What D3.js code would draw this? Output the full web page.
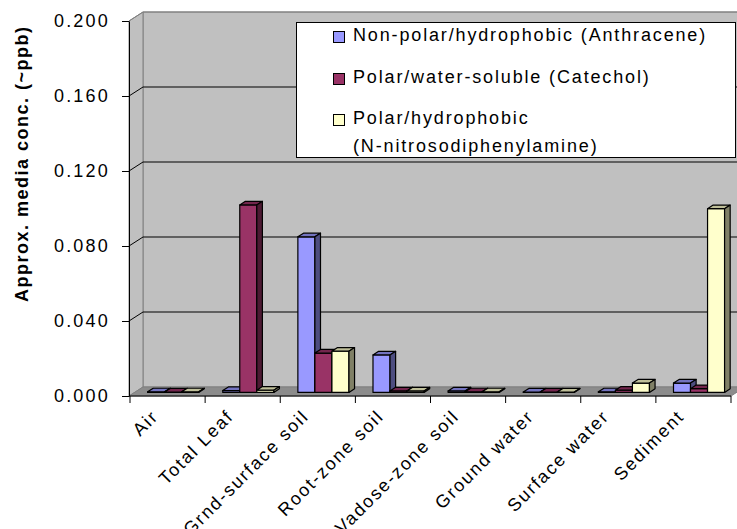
<!DOCTYPE html>
<html>
<head>
<meta charset="utf-8">
<script src="https://cdn.jsdelivr.net/npm/d3@7/dist/d3.min.js"></script>
<style>
  html, body { margin: 0; padding: 0; background: #ffffff; }
  svg { display: block; }
  text { font-family: "Liberation Sans", Arial, sans-serif; fill: #000; }
</style>
</head>
<body>
<svg id="chart" width="737" height="529"></svg>
<script>
// Media compartments along the x axis
const categories = ["Air", "Total Leaf", "Grnd-surface soil", "Root-zone soil",
  "Vadose-zone soil", "Ground water", "Surface water", "Sediment"];

// Series names as shown in the legend
const seriesNames = [
  "Non-polar/hydrophobic (Anthracene)",
  "Polar/water-soluble (Catechol)",
  "Polar/hydrophobic (N-nitrosodiphenylamine)"
];

// Approximate media concentrations per compartment
const anthracene = [0.0003, 0.001, 0.083, 0.020, 0.0008, 0.0002, 0.0003, 0.005];
const catechol   = [0.0002, 0.100, 0.021, 0.0008, 0.0003, 0.0002, 0.0012, 0.002];
const nitroso    = [0.0003, 0.0012, 0.022, 0.0008, 0.0003, 0.0002, 0.005, 0.098];

const yTicks = [0, 0.04, 0.08, 0.12, 0.16, 0.2];
const yTitle = "Approx. media conc. (~ppb)";

const seriesValues = [anthracene, catechol, nitroso];

// Face colours per series: front, top, side
const faceColors = [
  { front: "#9999ff", top: "#7373bf", side: "#4d4d80" },
  { front: "#993366", top: "#73264d", side: "#4d1a33" },
  { front: "#ffffcc", top: "#bfbf99", side: "#808066" }
];

const svg = d3.select("#chart");

// Front plane of the 3D box
const x0Left = 130, x0Right = 731;
const yScale = d3.scaleLinear().domain([0, 0.2]).range([396, 21]);
const x0 = d3.scaleBand().domain(categories).range([x0Left, x0Right]);
const bw = x0.bandwidth();
const x1 = d3.scaleBand().domain(d3.range(3)).range([bw * 0.16, bw * 0.84]);

// Depth of the box
const DX = 14, DY = -9;
const wallRight = 760;

const g = svg.append("g");

// Back wall
g.append("polygon")
  .attr("points", [[x0Left - 1 + DX, yScale(0.2) + DY], [wallRight, yScale(0.2) + DY],
    [wallRight, yScale(0) + DY], [x0Left - 1 + DX, yScale(0) + DY]].join(" "))
  .attr("fill", "#c0c0c0").attr("stroke", "#808080").attr("stroke-width", 1);

// Left side wall
g.append("polygon")
  .attr("points", [[x0Left - 1, yScale(0.2)], [x0Left - 1 + DX, yScale(0.2) + DY],
    [x0Left - 1 + DX, yScale(0) + DY], [x0Left - 1, yScale(0)]].join(" "))
  .attr("fill", "#c0c0c0").attr("stroke", "#808080").attr("stroke-width", 1);

// Floor
g.append("polygon")
  .attr("points", [[x0Left - 1, yScale(0)], [x0Right, yScale(0)],
    [x0Right + DX, yScale(0) + DY], [x0Left - 1 + DX, yScale(0) + DY]].join(" "))
  .attr("fill", "#8c8c8c").attr("stroke", "#808080").attr("stroke-width", 1);

// Gridlines on side wall and back wall
yTicks.filter(v => v > 0).forEach(v => {
  const y = yScale(v);
  g.append("path")
    .attr("d", `M${x0Left - 1},${y}L${x0Left - 1 + DX},${y + DY}L${wallRight},${y + DY}`)
    .attr("fill", "none").attr("stroke", v === 0.2 ? "#808080" : "#000")
    .attr("stroke-width", 1);
});

// Bars: placed at mid-depth of the box
const bFrontX = 5.6, bFrontY = -3.6;   // bar front offset from the front plane
const bdx = 5.6, bdy = -3.6;           // bar depth
const barW = x1.bandwidth();

categories.forEach((cat, ci) => {
  seriesValues.forEach((vals, si) => {
    const v = vals[ci];
    const xl = x0(cat) + x1(si) + bFrontX;
    const xr = xl + barW;
    const yb = yScale(0) + bFrontY;
    const yt = yScale(v) + bFrontY;
    const c = faceColors[si];
    const bar = g.append("g").attr("class", "bar");
    bar.append("polygon")
      .attr("points", [[xl, yt], [xr, yt], [xr, yb], [xl, yb]].join(" "))
      .attr("fill", c.front).attr("stroke", "#000").attr("stroke-width", 1.2)
      .attr("stroke-linejoin", "round");
    bar.append("polygon")
      .attr("points", [[xl, yt], [xr, yt], [xr + bdx, yt + bdy], [xl + bdx, yt + bdy]].join(" "))
      .attr("fill", c.top).attr("stroke", "#000").attr("stroke-width", 1.2)
      .attr("stroke-linejoin", "round");
    bar.append("polygon")
      .attr("points", [[xr, yt], [xr + bdx, yt + bdy], [xr + bdx, yb + bdy], [xr, yb]].join(" "))
      .attr("fill", c.side).attr("stroke", "#000").attr("stroke-width", 1.2)
      .attr("stroke-linejoin", "round");
  });
});

// Y axis
const yAxis = d3.axisLeft(yScale).tickValues(yTicks).tickFormat(d3.format(".3f"))
  .tickSizeInner(7).tickSizeOuter(0).tickPadding(12);
const yAxisG = svg.append("g").attr("transform", `translate(${x0Left - 1},0)`).call(yAxis);
yAxisG.select(".domain").attr("stroke", "#000");
yAxisG.selectAll(".tick line").attr("stroke", "#000");
yAxisG.selectAll(".tick text")
  .style("font-family", "'Liberation Sans', Arial, sans-serif")
  .style("font-size", "18px").style("letter-spacing", "2.2px").attr("fill", "#000");

// X axis with ticks at category boundaries
const xAxisG = svg.append("g").attr("transform", `translate(0,${yScale(0)})`);
xAxisG.append("line").attr("x1", x0Left - 1).attr("x2", x0Right).attr("y1", 0).attr("y2", 0)
  .attr("stroke", "#000");
categories.concat([null]).forEach((cat, i) => {
  const xx = cat === null ? x0Right : x0(cat);
  xAxisG.append("line").attr("x1", xx).attr("x2", xx).attr("y1", 0).attr("y2", 7)
    .attr("stroke", "#000");
});
categories.forEach(cat => {
  const cx = x0(cat) + bw / 2;
  xAxisG.append("text")
    .attr("transform", `translate(${cx - 12.5},${17}) rotate(-45)`)
    .attr("text-anchor", "end")
    .attr("dy", "0.35em")
    .style("font-size", "18px").style("letter-spacing", "1.85px")
    .text(cat);
});

// Y axis title
svg.append("text")
  .attr("transform", "translate(28,302) rotate(-90)")
  .attr("text-anchor", "start")
  .style("font-size", "18px").style("font-weight", "bold").style("letter-spacing", "1.5px")
  .text(yTitle);

// Legend
const legend = svg.append("g");
legend.append("rect").attr("x", 296.5).attr("y", 22.5).attr("width", 439).attr("height", 135)
  .attr("fill", "#fff").attr("stroke", "#000").attr("stroke-width", 1);
const legendRows = [
  { lines: [seriesNames[0]], y: 35 },
  { lines: [seriesNames[1]], y: 77 },
  { lines: ["Polar/hydrophobic", "(N-nitrosodiphenylamine)"], y: 118 }
];
legendRows.forEach((row, i) => {
  legend.append("rect").attr("x", 333.5).attr("y", row.y - 3.5).attr("width", 11).attr("height", 11)
    .attr("fill", faceColors[i].front).attr("stroke", "#000").attr("stroke-width", 1);
  row.lines.forEach((ln, k) => {
    legend.append("text").attr("x", 353).attr("y", row.y + k * 28).attr("dy", "0.35em")
      .style("font-size", "18px").style("letter-spacing", "1.85px")
      .text(ln);
  });
});
</script>
</body>
</html>
